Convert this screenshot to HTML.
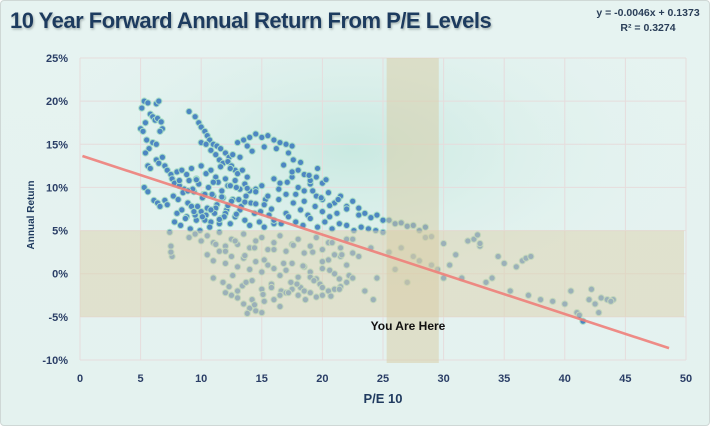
<!DOCTYPE html>
<html><head><meta charset="utf-8"><style>
html,body{margin:0;padding:0;width:710px;height:426px;overflow:hidden;background:#fff}
#wrap{position:absolute;left:0;top:0;width:708px;height:424px;border:1px solid #cfd8d6;border-radius:4px;background:linear-gradient(180deg,#e6f3f1,#e4f2ef);}
text{font-family:"Liberation Sans",sans-serif}
</style></head><body>
<div id="wrap">
<svg id="chart" width="710" height="426" style="position:absolute;left:-1px;top:-1px">
<defs>
<radialGradient id="glow" cx="0.45" cy="0.3" r="0.6"><stop offset="0" stop-color="#c9e9e1"/><stop offset="1" stop-color="#e5f3f0" stop-opacity="0"/></radialGradient>
<filter id="sh"><feDropShadow dx="1" dy="1.5" stdDeviation="1" flood-color="#7f8c8c" flood-opacity="0.6"/></filter>
</defs>
<rect x="80" y="58" width="606" height="302" fill="url(#glow)"/>
<g id="grid"></g>
<g id="pts"></g>
<g id="bands"></g>
<g id="axes"></g>
<text x="10" y="28" font-size="22" font-weight="bold" fill="#1f3a5f" filter="url(#sh)" style="letter-spacing:-0.5px">10 Year Forward Annual Return From P/E Levels</text>
<text x="648" y="16" font-size="10.5" font-weight="bold" fill="#2a3e58" text-anchor="middle">y = -0.0046x + 0.1373</text>
<text x="648" y="31" font-size="10.5" font-weight="bold" fill="#2a3e58" text-anchor="middle">R² = 0.3274</text>
<text x="408" y="330" font-size="12" font-weight="bold" fill="#111" text-anchor="middle">You Are Here</text>
<text x="383" y="403" font-size="13" font-weight="bold" fill="#1f3a5f" text-anchor="middle">P/E 10</text>
<text x="34" y="215" font-size="10" font-weight="bold" fill="#1f3a5f" text-anchor="middle" transform="rotate(-90 34 215)">Annual Return</text>
</svg>
</div>
<script>
const xTicks=[0,5,10,15,20,25,30,35,40,45,50];
const yTicks=[25,20,15,10,5,0,-5,-10];
const slope=-0.46, intercept=13.73;
const trendRange=[0.2,48.6];
const pe=[5.1,5.3,5.6,6.3,6.5,5.0,5.2,5.4,5.8,6.0,6.2,6.4,6.7,6.8,5.5,5.7,5.4,6.0,6.3,6.6,5.6,5.8,5.3,5.6,6.1,6.4,6.6,7.0,7.2,6.3,6.5,6.8,7.0,7.2,7.5,7.4,7.5,7.6,7.5,
9.0,9.5,9.8,10.0,10.3,10.5,10.7,11.0,11.3,11.6,12.0,12.3,12.6,10.0,10.4,10.8,11.2,11.5,11.8,12.2,12.5,12.8,
13.0,13.5,14.0,14.5,15.0,15.5,16.0,16.5,17.0,17.5,13.8,14.2,15.2,16.2,17.2,17.6,13.2,
7.6,7.8,8.0,8.2,8.4,8.6,8.8,9.0,9.2,9.4,9.6,9.8,10.0,10.2,10.4,10.6,10.8,11.0,11.2,11.4,11.6,11.8,12.0,12.2,12.4,12.6,12.8,13.0,13.2,13.4,13.6,13.8,14.0,
7.7,8.1,8.5,8.9,9.3,9.7,10.1,10.5,10.9,11.3,11.7,12.1,12.5,12.9,13.3,13.7,14.1,14.5,14.9,15.3,
8.0,8.4,8.8,9.2,9.6,10.0,10.4,10.8,11.2,11.6,12.0,12.4,12.8,13.2,13.6,14.0,14.4,14.8,15.2,15.6,16.0,
7.8,8.3,8.7,9.1,9.5,9.9,10.3,10.7,11.1,11.5,11.9,
14.5,15.0,15.5,16.0,16.5,17.0,17.5,18.0,18.5,19.0,19.5,20.0,20.5,21.0,21.5,22.0,22.5,23.0,
15.2,15.8,16.4,17.0,17.6,18.2,18.8,19.4,20.0,20.6,21.2,
16.0,16.6,17.2,17.8,18.4,19.0,19.6,20.2,20.8,21.4,22.0,22.6,23.2,23.8,24.4,25.0,
18.0,18.5,19.0,19.5,20.0,
9.0,9.5,10.0,10.5,11.0,11.5,12.0,12.5,13.0,13.5,14.0,14.5,15.0,15.5,16.0,16.5,17.0,17.5,18.0,18.5,19.0,19.5,20.0,20.5,21.0,21.5,22.0,
10.5,11.0,11.5,12.0,12.5,13.0,13.5,14.0,14.5,15.0,15.5,16.0,16.5,17.0,17.5,18.0,18.5,19.0,19.5,20.0,20.5,21.0,21.5,22.0,22.5,
11.0,11.8,12.6,13.4,14.2,15.0,15.8,16.6,17.4,18.2,19.0,19.8,20.6,21.4,22.2,
12.0,12.5,13.0,13.5,14.0,14.5,15.0,13.8,14.2,15.2,16.0,16.5,17.0,17.5,18.0,18.5,19.0,19.5,20.0,20.5,21.0,21.5,22.0,22.5,
12.3,13.0,13.7,14.4,15.1,15.8,16.5,17.2,17.9,18.6,19.3,20.0,20.7,21.4,
23.0,24.0,25.0,26.0,27.0,28.0,28.5,29.0,30.0,31.0,32.0,33.0,32.5,30.5,31.5,33.5,34.0,35.0,36.0,36.5,35.5,37.0,38.0,39.0,40.0,41.0,41.5,42.0,42.5,43.0,43.5,44.0,42.8,41.2,34.5,30.0,29.5,27.0,26.0,25.5,26.5,27.5,28.0,29.0,24.0,23.0,22.5,24.5,23.5,24.2,
23.5,24.5,25.5,26.5,27.5,28.5,32.8,33.0,36.8,37.2,40.5,42.2,43.8,
8.2,8.9,9.6,10.3,11.0,11.7,12.4,13.1,13.8,14.5,9.4,10.1,10.8,11.5,12.2,12.9,13.6,
16.4,17.1,17.8,18.5,19.2,19.9,20.6,21.3,22.0,16.8,17.5,18.2,18.9,19.6,20.3,
11.2,12.0,12.8,13.6,14.4,15.2,16.0,16.8,17.6,18.4,19.2,20.0,20.8,21.6];
const ret=[19.2,20.0,19.8,19.7,20.0,16.8,16.5,17.5,18.5,18.2,17.8,18.0,17.6,16.8,15.5,14.5,14.0,15.2,15.0,16.5,12.5,12.2,10.0,9.5,8.5,8.2,7.8,8.5,8.0,13.2,12.8,13.5,12.5,12.0,11.5,4.8,3.2,2.0,2.5,
18.8,18.2,17.5,17.0,16.5,16.0,15.5,15.0,14.8,14.5,14.0,13.5,13.8,15.2,15.0,14.3,13.8,13.2,12.8,13.0,12.5,12.0,
15.2,15.5,15.8,16.2,15.8,16.0,15.5,15.2,15.0,14.8,14.8,14.2,14.7,14.5,14.0,13.2,13.5,
11.0,10.5,11.8,10.2,12.0,9.8,11.5,10.8,12.2,9.5,11.0,10.4,12.5,9.2,11.6,10.0,12.0,9.0,11.2,10.6,12.4,8.8,11.0,10.2,12.2,8.6,10.8,11.6,9.8,12.0,10.4,11.2,9.6,
9.0,8.6,9.4,8.2,9.8,7.8,8.8,7.6,9.2,8.0,9.6,7.4,8.4,10.0,7.8,9.0,8.2,9.8,7.2,8.6,
7.0,7.4,6.6,7.8,6.2,7.2,6.8,6.0,7.6,6.4,7.0,5.8,6.6,7.4,6.2,5.6,7.0,6.0,5.4,6.8,5.8,
6.0,5.6,6.4,5.2,6.8,5.0,6.2,5.4,7.0,5.8,6.6,
9.5,10.2,9.0,11.0,10.5,9.2,11.2,10.0,9.6,10.4,9.0,8.6,9.4,8.2,9.0,7.8,8.4,7.6,
8.0,7.5,8.6,7.0,8.2,7.4,6.8,7.8,7.2,6.6,7.0,
6.2,5.8,6.6,6.0,5.6,6.4,5.4,6.0,5.2,5.8,5.6,5.0,5.4,5.2,5.0,4.8,
12.0,11.5,10.8,11.2,10.5,
4.2,4.6,3.8,4.4,3.6,4.8,3.2,4.0,3.4,4.6,3.0,3.8,4.2,2.8,3.6,4.4,2.6,3.4,4.0,2.4,3.2,4.2,2.8,3.6,2.2,3.0,4.0,
2.2,1.5,2.6,1.2,2.0,0.8,1.8,0.5,1.4,0.2,1.0,0.6,-0.2,0.4,1.2,-0.4,0.8,0.2,-0.6,0.6,1.6,0.0,2.0,1.0,2.4,
-0.5,-1.0,-0.2,-1.4,-0.8,-1.8,-1.2,-2.0,-1.0,-1.6,-0.4,-1.2,0.4,-0.6,-0.2,
-2.2,-2.5,-2.0,-3.5,-4.0,-4.3,-4.5,-4.6,-3.0,-3.2,-3.0,-2.5,-2.2,-1.8,-2.5,-2.0,-2.2,-2.7,-2.5,-2.0,-1.8,-1.5,-1.0,-0.5,
-1.5,-2.8,-1.0,-3.6,-2.4,-1.6,-3.8,-2.2,-1.2,-3.0,-0.8,-1.6,-2.6,-1.8,
6.8,6.5,6.2,5.8,5.5,5.0,4.2,4.3,3.5,2.2,3.8,3.2,4.0,1.0,-0.5,-1.0,-0.5,1.2,0.8,1.5,-2.0,-2.5,-3.0,-3.2,-3.5,-4.5,-5.5,-3.0,-3.5,-2.8,-3.0,-3.0,-4.5,-4.8,2.0,-0.5,0.5,-1.0,0.5,2.5,3.0,2.0,1.5,1.0,3.0,2.0,4.0,-0.5,-2.0,-3.0,
7.0,6.8,6.2,5.9,5.6,5.4,4.5,3.5,1.8,2.0,-2.0,-1.8,-3.2,
10.8,9.6,10.9,9.2,10.6,8.9,10.2,8.6,9.9,8.1,7.2,6.6,7.4,6.3,7.9,6.9,8.3,
9.8,10.6,9.2,8.4,9.6,8.8,7.9,8.6,7.5,12.6,11.8,12.9,11.4,12.2,10.9,
3.4,2.6,3.8,2.1,3.0,1.6,2.8,1.2,3.3,0.9,2.5,1.4,3.6,2.2];
const NS='http://www.w3.org/2000/svg';
const L=80,R=686,T=58,B=360;
const xs=v=>L+(v-0)/50*(R-L);
const ys=v=>T+(25-v)/35*(B-T);
function mk(t,a,p){const e=document.createElementNS(NS,t);for(const k in a)e.setAttribute(k,a[k]);p.appendChild(e);return e;}
const grid=document.getElementById('grid'),axes=document.getElementById('axes'),pts=document.getElementById('pts'),bands=document.getElementById('bands');
xTicks.forEach(v=>{
 const l=mk('line',{x1:xs(v),x2:xs(v),y1:T,y2:B,stroke:'#e6dcdc','stroke-width':1},grid);
 
 
 const t=mk('text',{x:xs(v),y:382,'font-size':11,'font-weight':'bold',fill:'#2a3e66','text-anchor':'middle'},axes);
 t.textContent=v;
 
 
});
yTicks.forEach(v=>{
 const l=mk('line',{x1:L,x2:R,y1:ys(v),y2:ys(v),stroke:'#e6dcdc','stroke-width':1},grid);
 
 
 const t=mk('text',{x:68,y:ys(v)+4,'font-size':11,'font-weight':'bold',fill:'#2a3e66','text-anchor':'end'},axes);
 t.textContent=v+'%';
 
 
});
for(let i=0;i<pe.length;i++){
 const c=mk('circle',{cx:xs(pe[i]),cy:ys(ret[i]),r:3.1,fill:'#4d86c2',stroke:'#a6dcc6','stroke-width':1},pts);
 
 
}
const hb=mk('rect',{x:L,y:ys(5),width:R-L-2,height:ys(-5)-ys(5),fill:'#ddd3b2','fill-opacity':0.55},bands);


const vb=mk('rect',{x:xs(25.3),y:T,width:xs(29.6)-xs(25.3),height:B-T+3,fill:'#d8cba4','fill-opacity':0.5},bands);


const tl=mk('line',{x1:xs(trendRange[0]),y1:ys(intercept+slope*trendRange[0]),x2:xs(trendRange[1]),y2:ys(intercept+slope*trendRange[1]),stroke:'#ee7f7a','stroke-width':2.6,'stroke-opacity':0.9},bands);


</script>
</body></html>
